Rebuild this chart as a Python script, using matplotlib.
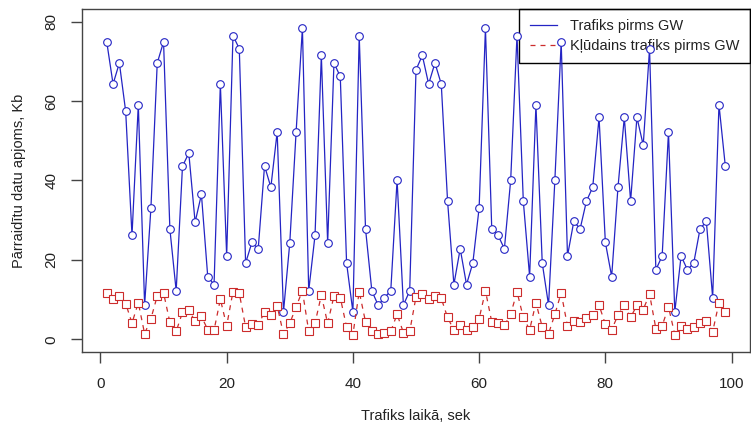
import matplotlib
matplotlib.use('Agg')
import matplotlib.pyplot as plt

# laiks, sek
laiks = list(range(1, 100))

# Trafiks pirms GW, Kb
trafiks = [74.9, 64.3, 69.6, 57.4, 26.2, 59.1, 8.6, 33.1, 69.6, 74.9,
           27.8, 12.2, 43.6, 46.9, 29.5, 36.5, 15.8, 13.8, 64.3, 21.0,
           76.5, 73.2, 19.2, 24.4, 22.8, 43.7, 38.3, 52.2, 6.9, 24.3,
           52.2, 78.4, 12.2, 26.2, 71.5, 24.3, 69.6, 66.2, 19.2, 6.9,
           76.5, 27.8, 12.2, 8.6, 10.5, 12.2, 40.1, 8.6, 12.2, 67.9,
           71.5, 64.3, 69.6, 64.3, 34.8, 13.8, 22.8, 13.8, 19.2, 33.1,
           78.4, 27.8, 26.2, 22.8, 40.1, 76.5, 34.8, 15.8, 59.1, 19.2,
           8.6, 40.1, 74.9, 21.0, 29.7, 27.8, 34.8, 38.3, 55.9, 24.4,
           15.8, 38.3, 55.9, 34.8, 55.9, 48.9, 73.2, 17.5, 21.0, 52.2,
           6.9, 21.0, 17.5, 19.2, 27.8, 29.7, 10.5, 59.1, 43.7]

# Kļūdains trafiks pirms GW, Kb
kludains = [11.6, 10.1, 10.9, 9.0, 4.1, 9.2, 1.4, 5.2, 10.9, 11.7,
            4.3, 2.0, 6.8, 7.3, 4.6, 5.8, 2.4, 2.3, 10.1, 3.4,
            12.0, 11.6, 3.1, 3.8, 3.7, 6.8, 6.1, 8.4, 1.3, 4.0,
            8.2, 12.2, 2.0, 4.1, 11.1, 4.0, 10.9, 10.5, 3.1, 1.2,
            12.0, 4.4, 2.0, 1.4, 1.7, 2.0, 6.3, 1.7, 2.0, 10.7,
            11.3, 10.1, 11.0, 10.3, 5.5, 2.3, 3.7, 2.3, 3.1, 5.2,
            12.2, 4.4, 4.1, 3.5, 6.3, 12.0, 5.5, 2.4, 9.2, 3.1,
            1.4, 6.3, 11.7, 3.3, 4.6, 4.4, 5.4, 6.1, 8.6, 3.8,
            2.4, 6.1, 8.6, 5.5, 8.6, 7.5, 11.4, 2.7, 3.4, 8.2,
            1.2, 3.3, 2.7, 3.1, 4.2, 4.6, 1.9, 9.2, 6.8]

x_ticks = [0, 20, 40, 60, 80, 100]
y_ticks = [0, 20, 40, 60, 80]

plt.rcParams['font.family'] = ['Liberation Sans', 'DejaVu Sans']
zils = '#2424c4'
sarkans = '#cc2c2c'
ramis = '#444444'

fig = plt.figure(figsize=(7.51, 4.30), dpi=100)
ax = fig.add_axes([0.1092, 0.1814, 0.8895, 0.7977])

ax.plot(laiks, trafiks, color=zils, lw=0.9, marker='o', ms=5.5,
        mfc='white', mec=zils, mew=0.8, label='Trafiks pirms GW', zorder=6)
ax.plot(laiks, kludains, color=sarkans, lw=0.9, ls=(0, (4, 4)), marker='s',
        ms=6, mfc='white', mec=sarkans, mew=0.8,
        label='Kļūdains trafiks pirms GW', zorder=6)

ax.set_xlim(-2.92, 102.92)
ax.set_ylim(-3.2, 83.2)
ax.set_xticks(x_ticks)
ax.set_yticks(y_ticks)
ax.set_yticklabels([str(v) for v in y_ticks], rotation=90, va='center')
ax.tick_params(axis='both', direction='out', length=8, width=1,
               color=ramis, labelcolor='#222222', labelsize=11)
ax.tick_params(axis='x', pad=10)
ax.tick_params(axis='y', pad=9)
for s in ax.spines.values():
    s.set_color(ramis)
    s.set_linewidth(1)

ax.set_xlabel('Trafiks laikā, sek', fontsize=10.5, color='#222222')
ax.set_ylabel('Pārraidītu datu apjoms, Kb', fontsize=10.5, color='#222222')
ax.xaxis.set_label_coords(0.5, -0.1866)
ax.yaxis.set_label_coords(-0.0943, 0.5)
ax.xaxis.label.set_va('center')
ax.yaxis.label.set_va('center')

leg_handles = [plt.Line2D([], [], color=zils, lw=0.9),
               plt.Line2D([], [], color=sarkans, lw=0.9, ls=(0, (4, 4)))]
leg = ax.legend(leg_handles, ['Trafiks pirms GW', 'Kļūdains trafiks pirms GW'],
                loc='upper right', borderaxespad=0, fontsize=10.5,
                fancybox=False, framealpha=1, facecolor='none',
                edgecolor='black', handlelength=1.9, handletextpad=0.9,
                borderpad=0.7, labelspacing=0.4)
leg.get_frame().set_linewidth(1)
leg.set_zorder(5)
for t in leg.get_texts():
    t.set_color('#222222')

fig.savefig('out.png', dpi=100)
